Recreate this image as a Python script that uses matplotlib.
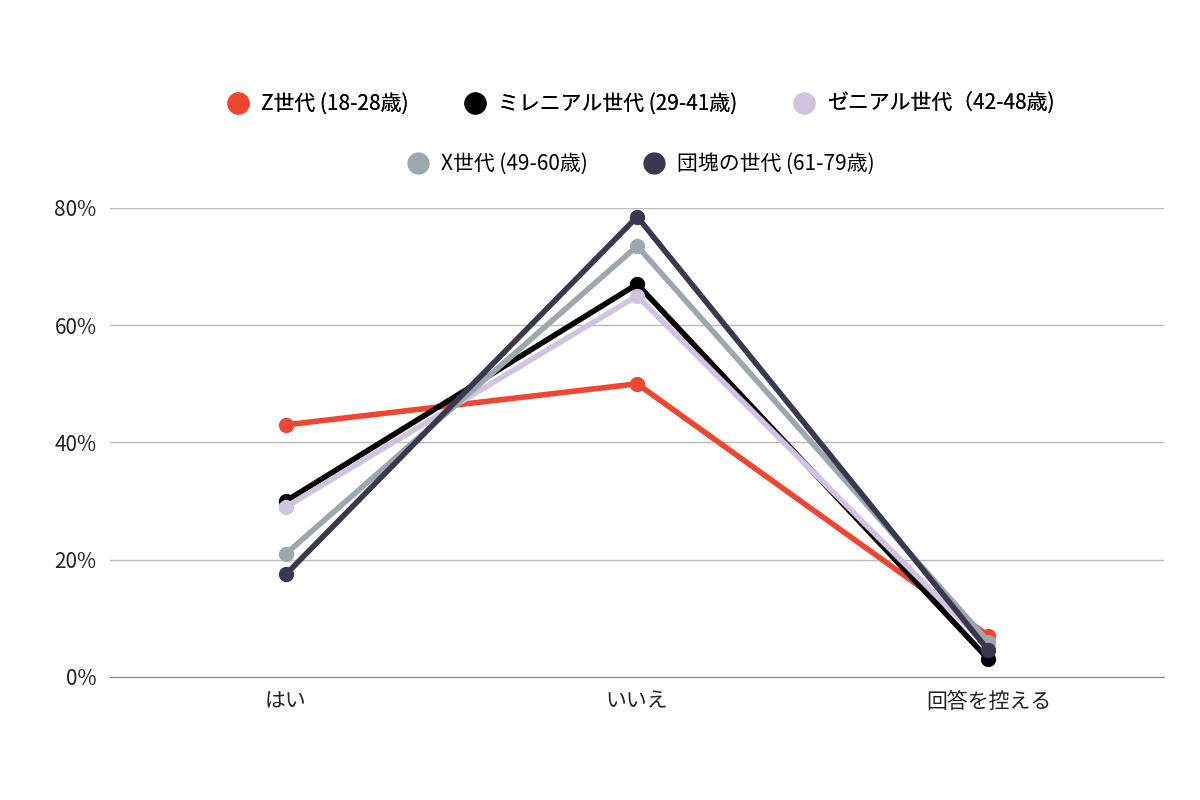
import matplotlib
matplotlib.use("Agg")
import matplotlib.pyplot as plt
from matplotlib.lines import Line2D

plt.rcParams["font.family"] = ["Noto Sans CJK JP"]

categories = ["はい", "いいえ", "回答を控える"]
series_names = ["Z世代 (18-28歳)", "ミレニアル世代 (29-41歳)", "ゼニアル世代（42-48歳)",
                "X世代 (49-60歳)", "団塊の世代 (61-79歳)"]
gen_z = [43, 50, 7]
millennial = [30, 67, 3]
zennial = [29, 65, 5]
gen_x = [21, 73.5, 6]
boomer = [17.5, 78.5, 4.5]
values = [gen_z, millennial, zennial, gen_x, boomer]
colors = ["#f04530", "#000000", "#d2c3e0", "#9aa9ad", "#3a3850"]
draw_order = [0, 2, 1, 3, 4]

fig = plt.figure(figsize=(12, 8), dpi=100)
ax = fig.add_axes([0.092, 0.154, 0.878, 0.586])
x = range(len(categories))
for i in draw_order:
    ax.plot(x, values[i], color=colors[i], lw=4, marker="o", ms=10, zorder=3 + i)

ax.set_xlim(-0.5, 2.5)
ax.set_ylim(0, 80)
ax.set_yticks([0, 20, 40, 60, 80])
ax.set_yticklabels(["0%", "20%", "40%", "60%", "80%"], fontsize=15, color="#222")
ax.set_xticks(list(x))
ax.set_xticklabels(categories, fontsize=15, color="#222")
ax.grid(axis="y", color="#bbbbbb", lw=1)
ax.set_axisbelow(True)
for s in ["top", "right", "left"]:
    ax.spines[s].set_visible(False)
ax.spines["bottom"].set_color("#888")
ax.tick_params(length=0, pad=10)

def handles(idx):
    return [Line2D([], [], ls="", marker="o", ms=15, color=colors[i]) for i in idx]

l1 = fig.legend(handles([0, 1, 2]), series_names[:3], loc="center", bbox_to_anchor=(0.53, 0.87),
                ncol=3, frameon=False, fontsize=15, handletextpad=0.1, columnspacing=2.2)
fig.add_artist(l1)
fig.legend(handles([3, 4]), series_names[3:], loc="center", bbox_to_anchor=(0.53, 0.795),
           ncol=2, frameon=False, fontsize=15, handletextpad=0.1, columnspacing=2.2)

fig.savefig("out.png", dpi=100, facecolor="white")
